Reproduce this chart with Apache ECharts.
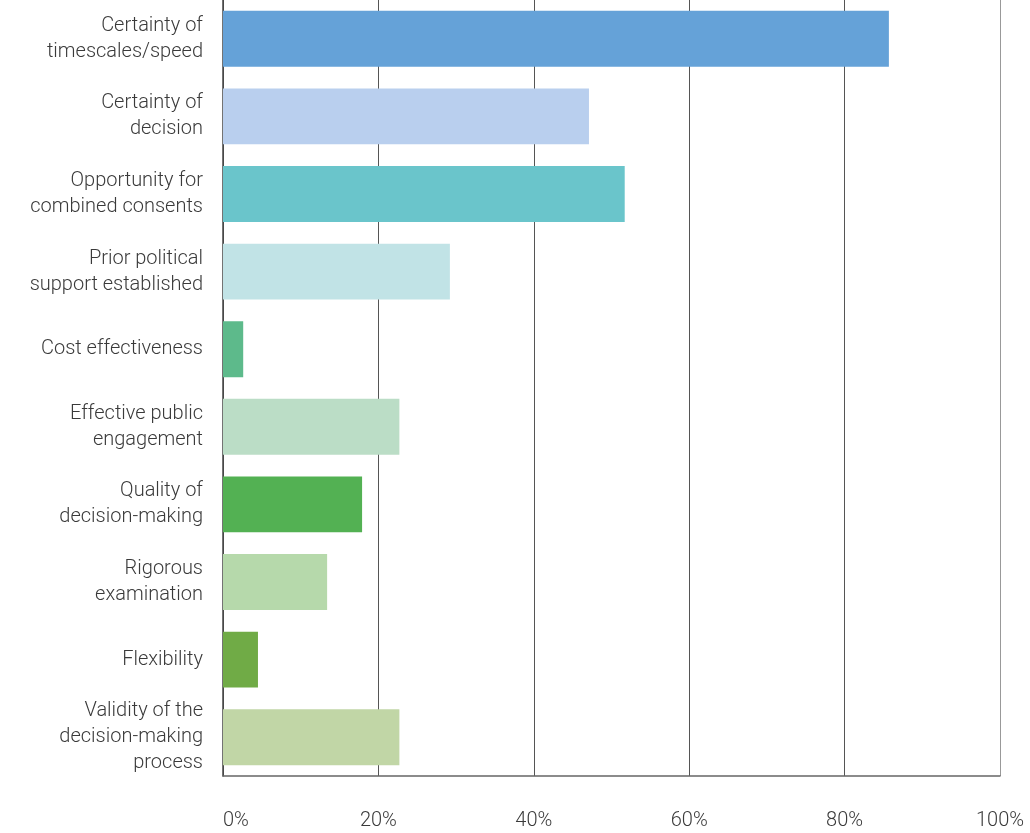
<!DOCTYPE html>
<html><head><meta charset="utf-8">
<script src="https://cdn.jsdelivr.net/npm/echarts@6/dist/echarts.min.js"></script>
<style>html,body{margin:0;padding:0;background:#fff}#c{width:1030px;height:833px}</style>
</head><body><div id="c"></div>
<script>
const categories = [
  "Certainty of\ntimescales/speed",
  "Certainty of\ndecision",
  "Opportunity for\ncombined consents",
  "Prior political\nsupport established",
  "Cost effectiveness",
  "Effective public\nengagement",
  "Quality of\ndecision-making",
  "Rigorous\nexamination",
  "Flexibility",
  "Validity of the\ndecision-making\nprocess"
];
const values = [85.7, 47.1, 51.7, 29.2, 2.6, 22.7, 17.9, 13.4, 4.5, 22.7];
const colors = ["#65A2D8","#B9CFEE","#6AC5CB","#C1E3E6","#5DBA8B","#BBDDC6","#53B153","#B6D9AB","#70AB46","#C1D6A6"];
const xTicks = [0, 20, 40, 60, 80, 100];

const chart = echarts.init(document.getElementById('c'), null, {renderer:'canvas'});
chart.setOption({
  animation: false,
  grid: {left: 223, right: 30, top: 0, bottom: 57, containLabel: false},
  xAxis: {
    type: 'value', min: 0, max: 100, interval: 20,
    axisLine: {show: true, lineStyle: {color: '#666', width: 1.5}},
    axisTick: {show: false},
    splitLine: {show: true, lineStyle: {color: ['#555','#555','#555','#555','#555','#999'], width: 1}},
    axisLabel: {
      margin: 35, color: '#3a3a3a', fontSize: 20, fontFamily: 'Roboto', fontWeight: 300,
      alignMinLabel: 'left',
      formatter: v => xTicks.includes(v) ? v + '%' : ''
    }
  },
  yAxis: {
    type: 'category', inverse: true, data: categories,
    axisLine: {show: true, lineStyle: {color: '#444', width: 1.5}},
    axisTick: {show: false},
    axisLabel: {margin: 20, color: '#3a3a3a', fontSize: 20, fontFamily: 'Roboto', fontWeight: 300, lineHeight: 26, align: 'right'}
  },
  series: [{
    type: 'bar', barWidth: '72%',
    data: values.map((v, i) => ({value: v, itemStyle: {color: colors[i]}})),
    label: {show: false}
  }]
});
</script></body></html>
